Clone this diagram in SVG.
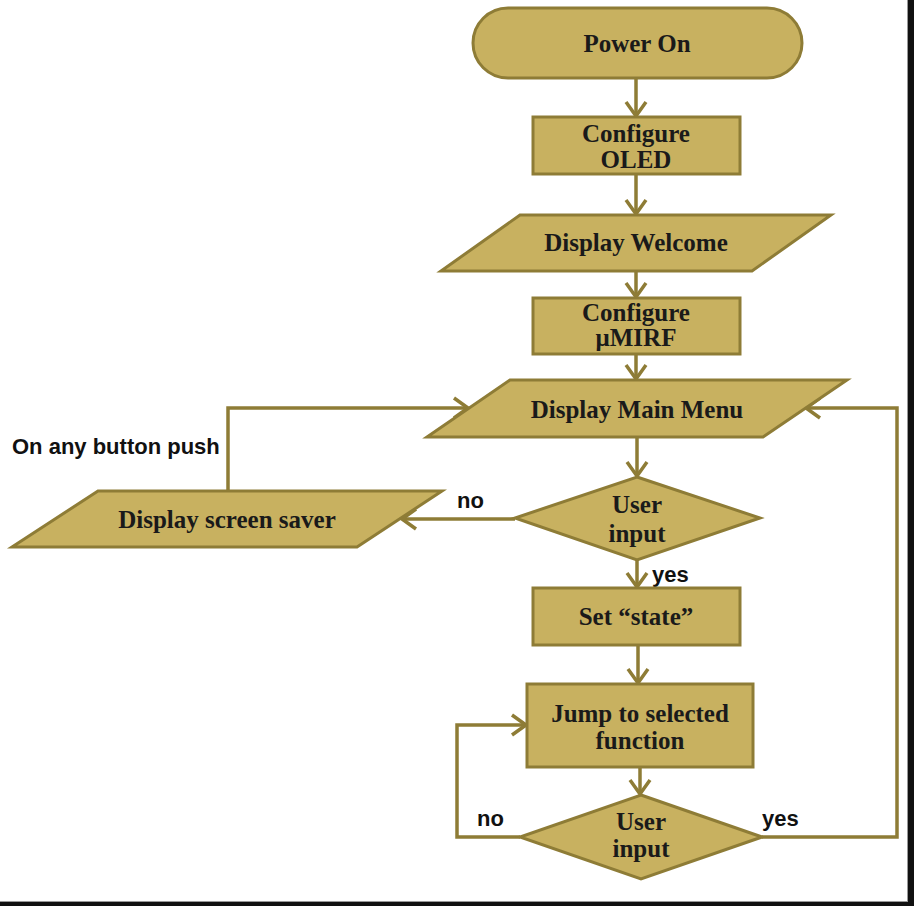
<svg xmlns="http://www.w3.org/2000/svg" width="914" height="906" viewBox="0 0 914 906">
<style>
.n{fill:#C8B160;stroke:#8E7C36;stroke-width:3}
.t{font-family:"Liberation Serif","DejaVu Serif",serif;font-weight:bold;font-size:25px;fill:#1a1a1a;text-anchor:middle}
.l{font-family:"Liberation Sans",Arial,sans-serif;font-weight:bold;font-size:22px;fill:#111}
.c{fill:none;stroke:#8E7C36;stroke-width:3.5}
</style>
<defs>
<marker id="a" viewBox="0 0 18 24" refX="16" refY="12" markerWidth="18" markerHeight="24" markerUnits="userSpaceOnUse" orient="auto">
<path d="M2,2 L16,12 L2,22" fill="none" stroke="#8E7C36" stroke-width="3.5"/>
</marker>
</defs>
<rect x="0" y="0" width="914" height="906" fill="#fff"/>
<rect x="908" y="0" width="6" height="906" fill="#111"/>
<rect x="0" y="902" width="914" height="4" fill="#111"/>
<line x1="907.5" y1="0" x2="907.5" y2="902" stroke="#999" stroke-width="1"/>
<line x1="0" y1="901.5" x2="908" y2="901.5" stroke="#999" stroke-width="1"/>

<g id="connectors">
<path class="c" d="M636,78 V116" marker-end="url(#a)"/>
<path class="c" d="M636,174 V214" marker-end="url(#a)"/>
<path class="c" d="M636,271 V297" marker-end="url(#a)"/>
<path class="c" d="M636,354 V379" marker-end="url(#a)"/>
<path class="c" d="M637,437 V476" marker-end="url(#a)"/>
<path class="c" d="M515,519 H402" marker-end="url(#a)"/>
<path class="c" d="M228,491 V408 H468" marker-end="url(#a)"/>
<path class="c" d="M637,560 V587" marker-end="url(#a)"/>
<path class="c" d="M638,645 V683" marker-end="url(#a)"/>
<path class="c" d="M640,767 V794" marker-end="url(#a)"/>
<path class="c" d="M520,837 H457 V725 H526" marker-end="url(#a)"/>
<path class="c" d="M762,837 H897 V408 H806" marker-end="url(#a)"/>
<text class="l" x="12" y="454">On any button push</text>
<text class="l" x="457" y="508">no</text>
<text class="l" x="652" y="582">yes</text>
<text class="l" x="477" y="826">no</text>
<text class="l" x="762" y="826">yes</text>
</g>

<g id="power-on">
<rect class="n" x="473" y="8" width="329" height="70" rx="35" ry="35"/>
<text class="t" x="637" y="52">Power On</text>
</g>
<g id="configure-oled">
<rect class="n" x="533" y="117" width="207" height="57"/>
<text class="t" x="636" y="142">Configure</text>
<text class="t" x="636" y="168">OLED</text>
</g>
<g id="display-welcome">
<polygon class="n" points="520,215 831,215 752,271 441,271"/>
<text class="t" x="636" y="251">Display Welcome</text>
</g>
<g id="configure-umirf">
<rect class="n" x="533" y="298" width="207" height="56"/>
<text class="t" x="636" y="321">Configure</text>
<text class="t" x="636" y="346">μMIRF</text>
</g>
<g id="display-main-menu">
<polygon class="n" points="510,380 847,380 763,437 427,437"/>
<text class="t" x="637" y="418">Display Main Menu</text>
</g>
<g id="user-input-1">
<polygon class="n" points="637,477 760,518 637,560 515,518"/>
<text class="t" x="637" y="513">User</text>
<text class="t" x="637" y="542">input</text>
</g>
<g id="display-screen-saver">
<polygon class="n" points="98,491 442,491 357,547 12,547"/>
<text class="t" x="227" y="528">Display screen saver</text>
</g>
<g id="set-state">
<rect class="n" x="533" y="588" width="207" height="57"/>
<text class="t" x="636" y="625">Set “state”</text>
</g>
<g id="jump">
<rect class="n" x="527" y="684" width="226" height="83"/>
<text class="t" x="640" y="722">Jump to selected</text>
<text class="t" x="640" y="749">function</text>
</g>
<g id="user-input-2">
<polygon class="n" points="641,795 762,837 641,879 520,837"/>
<text class="t" x="641" y="830">User</text>
<text class="t" x="641" y="857">input</text>
</g>
</svg>
